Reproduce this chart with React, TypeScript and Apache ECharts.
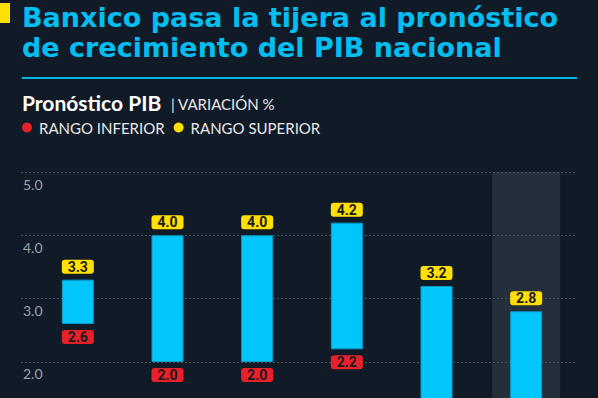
import React, { useEffect, useRef } from "react";
import * as echarts from "echarts";

const categories = ["Informe 1", "Informe 2", "Informe 3", "Informe 4", "Informe 5", "Informe 6"];
const upperValues = [3.3, 4.0, 4.0, 4.2, 3.2, 2.8];
const lowerValues = [2.6, 2.0, 2.0, 2.2, 1.2, 1.0];
const highlightIndex = 5;
const titleLines = ["Banxico pasa la tijera al pronóstico", "de crecimiento del PIB nacional"];
const subtitleMain = "Pronóstico PIB";
const subtitleUnit = "| VARIACIÓN %";
const legendNames = ["RANGO INFERIOR", "RANGO SUPERIOR"];
const yMin = 1;
const yMax = 5;
const yInterval = 1;

const BG = "#111a27";
const CYAN = "#00c6fb";
const YELLOW = "#ffe000";
const RED = "#e8202a";

const CHART_H = 398;
const GRID_TOP = 172;
const PX_PER_UNIT = 63.33;

export default function App() {
  const ref = useRef<HTMLDivElement>(null);
  useEffect(() => {
    const chart = echarts.init(ref.current!, null, { renderer: "svg" });
    const rangeValues = upperValues.map((u, i) => +(u - lowerValues[i]).toFixed(2));
    // lowest value still inside the visible picture (the chart is cropped at the bottom)
    const visibleMin = yMax - (CHART_H - GRID_TOP) / PX_PER_UNIT;
    const labelBase = {
      show: true,
      fontFamily: "Roboto",
      fontWeight: "bold",
      fontSize: 14,
      color: "#1b1b1b",
      width: 24,
      height: 14,
      lineHeight: 14,
      padding: [0, 4],
      align: "center",
      borderRadius: 3,
      distance: 6,
    };
    const titleStyle = {
      fill: "#00bff0",
      fontFamily: "DejaVu Sans",
      fontWeight: "bold",
      fontSize: 27,
      verticalAlign: "middle",
    };
    const option: any = {
      animation: false,
      backgroundColor: BG,
      textStyle: { fontFamily: "Lato" },
      graphic: [
        { type: "rect", shape: { x: 0, y: 3, width: 10, height: 20 }, style: { fill: YELLOW } },
        { type: "text", x: 22, y: 17.5, style: { ...titleStyle, text: titleLines[0] } },
        { type: "text", x: 22, y: 47.5, style: { ...titleStyle, text: titleLines[1] } },
        { type: "rect", shape: { x: 22, y: 77, width: 555, height: 2 }, style: { fill: "#00b8ea" } },
        {
          type: "text",
          x: 22,
          y: 102,
          style: {
            text: subtitleMain,
            fill: "#ffffff",
            fontFamily: "Lato",
            fontWeight: "bold",
            fontSize: 21,
            verticalAlign: "middle",
          },
        },
        {
          type: "text",
          x: 171,
          y: 104,
          style: {
            text: subtitleUnit,
            fill: "#e8e8e8",
            fontFamily: "Lato",
            fontSize: 15,
            verticalAlign: "middle",
          },
        },
      ],
      legend: {
        left: 22,
        top: 120,
        itemWidth: 10,
        itemHeight: 10,
        itemGap: 9,
        padding: 0,
        selectedMode: false,
        textStyle: { color: "#e8e8e8", fontSize: 15, fontFamily: "Lato", padding: [1, 0, 0, 2] },
        data: [
          { name: legendNames[0], icon: "circle", itemStyle: { color: RED, borderWidth: 0 } },
          { name: legendNames[1], icon: "circle", itemStyle: { color: YELLOW, borderWidth: 0 } },
        ],
      },
      grid: [
        { left: 21, right: 21, top: GRID_TOP, height: PX_PER_UNIT * (yMax - yMin), outerBoundsMode: "none", containLabel: false },
        { left: 33, right: 27, top: GRID_TOP, height: PX_PER_UNIT * (yMax - yMin), outerBoundsMode: "none", containLabel: false },
      ],
      xAxis: [
        { gridIndex: 0, type: "value", show: false, min: 0, max: 1 },
        { gridIndex: 1, type: "category", data: categories, show: false },
      ],
      yAxis: [
        {
          gridIndex: 0,
          type: "value",
          min: yMin,
          max: yMax,
          interval: yInterval,
          axisLine: { show: false },
          axisTick: { show: false },
          axisLabel: {
            inside: true,
            margin: 2,
            verticalAlign: "top",
            padding: [5, 0, 0, 0],
            color: "#9aa1aa",
            fontSize: 14,
            fontFamily: "Lato",
            showMinLabel: false,
            formatter: (v: number) => v.toFixed(1),
          },
          splitLine: { lineStyle: { color: "#4b5462", type: [2, 2], width: 1 } },
        },
        { gridIndex: 1, type: "value", min: yMin, max: yMax, interval: yInterval, show: false },
      ],
      series: [
        {
          type: "custom",
          xAxisIndex: 1,
          yAxisIndex: 1,
          z: -1,
          silent: true,
          data: [[highlightIndex, yMax]],
          renderItem: (params: any, api: any) => {
            const top = api.coord([api.value(0), api.value(1)]);
            const bottom = api.coord([api.value(0), yMin]);
            return {
              type: "rect",
              shape: { x: top[0] - 34, y: top[1], width: 68, height: bottom[1] - top[1] },
              style: { fill: "#252e3b" },
            };
          },
        },
        {
          name: legendNames[0],
          type: "bar",
          xAxisIndex: 1,
          yAxisIndex: 1,
          stack: "range",
          barWidth: 32,
          silent: true,
          data: lowerValues.map((v) => ({ value: v, label: { show: v > visibleMin } })),
          itemStyle: { color: "rgba(0,0,0,0)" },
          label: {
            ...labelBase,
            position: "insideTop",
            backgroundColor: RED,
            formatter: (p: any) => lowerValues[p.dataIndex].toFixed(1),
          },
        },
        {
          name: legendNames[1],
          type: "bar",
          xAxisIndex: 1,
          yAxisIndex: 1,
          stack: "range",
          barWidth: 32,
          silent: true,
          data: rangeValues,
          itemStyle: { color: CYAN, borderColor: "#0a9ccc", borderWidth: 1 },
          label: {
            ...labelBase,
            position: "top",
            backgroundColor: YELLOW,
            formatter: (p: any) => upperValues[p.dataIndex].toFixed(1),
          },
        },
      ],
    };
    chart.setOption(option);
    return () => chart.dispose();
  }, []);
  return <div ref={ref} style={{ position: "fixed", left: 0, top: 0, width: 598, height: CHART_H }} />;
}
